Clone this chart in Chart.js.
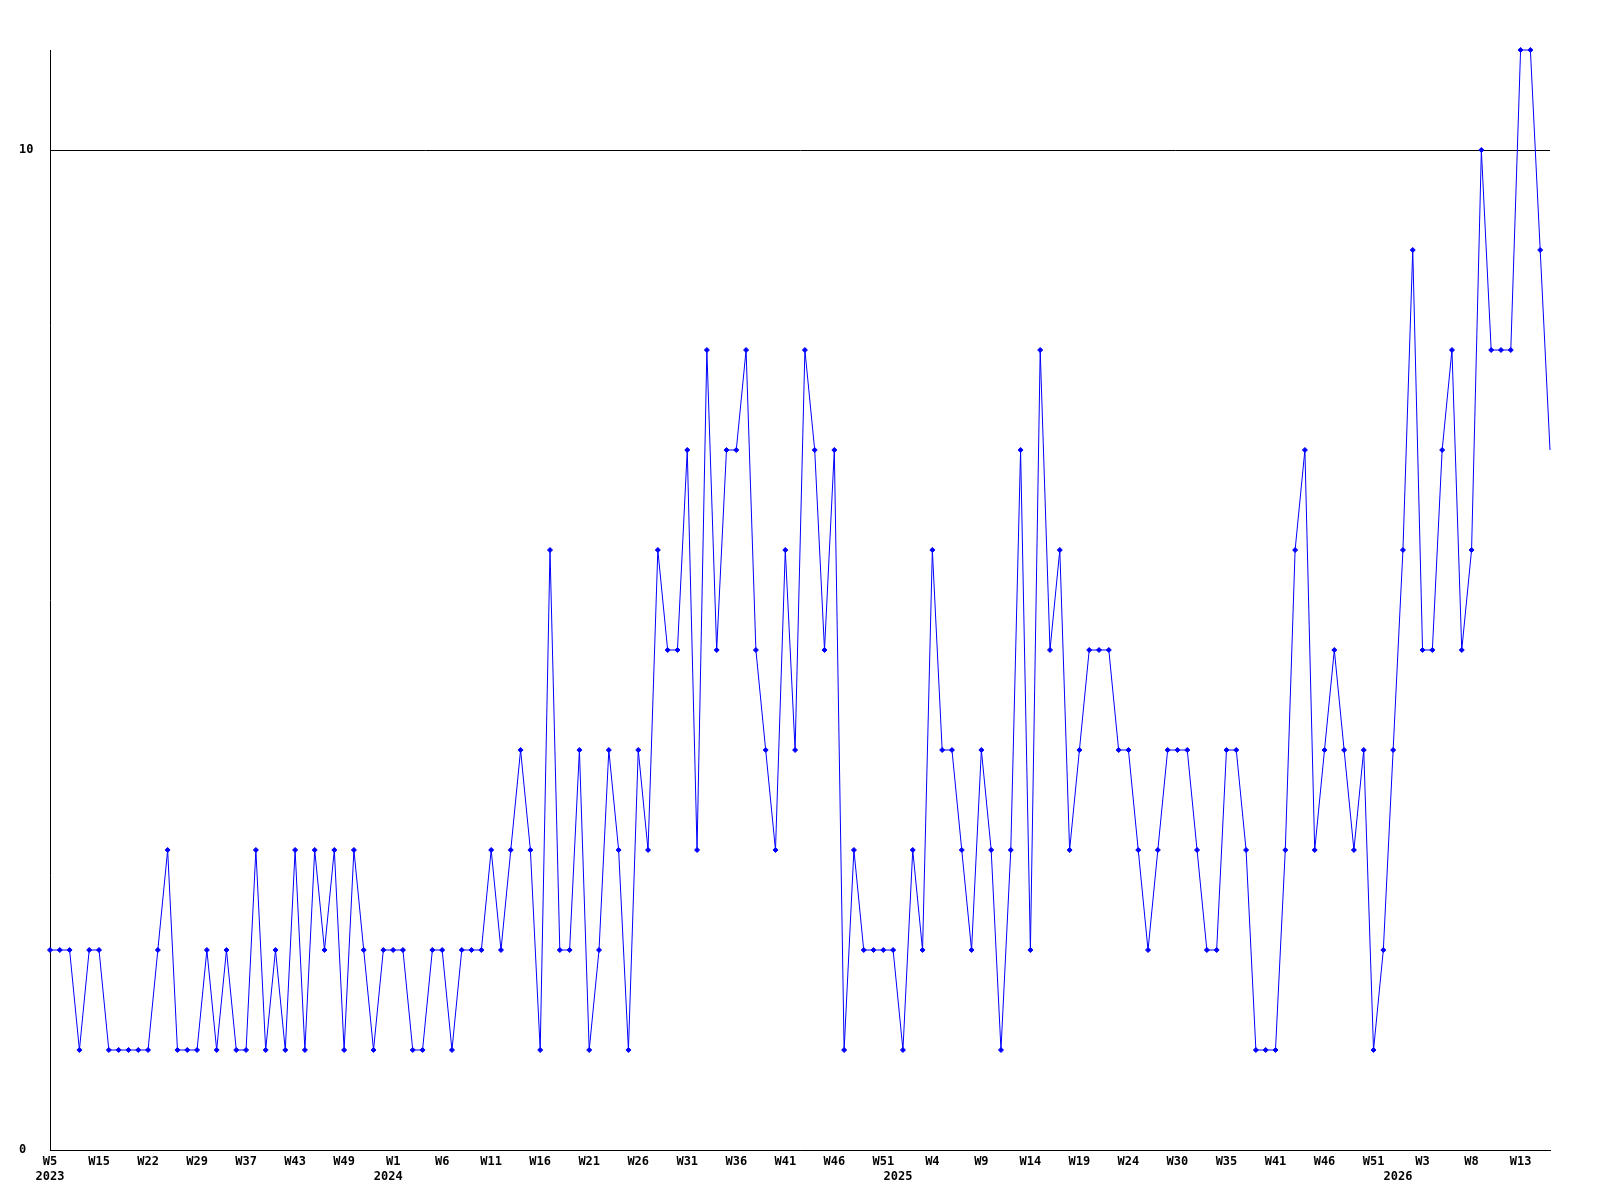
<!DOCTYPE html>
<html>
<head>
<meta charset="utf-8">
<script src="https://cdn.jsdelivr.net/npm/chart.js@4/dist/chart.umd.min.js"></script>
<style>
  html, body { margin: 0; padding: 0; background: #ffffff; }
  #wrap { width: 1600px; height: 1200px; }
</style>
</head>
<body>
<div id="wrap"><canvas id="c" width="1600" height="1200"></canvas></div>
<script>
// Weekly counts, in order (one point per category)
const counts = [
  2,2,2,1,2,2,1,1,1,1,1,2,3,1,1,1,2,1,2,1,
  1,3,1,2,1,3,1,3,2,3,1,3,2,1,2,2,2,1,1,
  2,2,1,2,2,2,3,2,3,4,3,1,6,2,2,4,1,2,4,3,
  1,4,3,6,5,5,7,3,8,5,7,7,8,5,4,3,6,4,8,
  7,5,7,1,3,2,2,2,2,1,3,2,6,4,4,3,2,4,3,1,
  3,7,2,8,5,6,3,4,5,5,5,4,4,3,2,3,4,4,4,
  3,2,2,4,4,3,1,1,1,3,6,7,3,4,5,4,3,4,1,
  2,4,6,9,5,5,7,8,5,6,10,8,8,8,11,11,9,
  7
];

// Week tick labels, one for every 5th point
const weekTicks = ['W5','W15','W22','W29','W37','W43','W49','W1','W6','W11','W16','W21',
  'W26','W31','W36','W41','W46','W51','W4','W9','W14','W19','W24','W30','W35','W41',
  'W46','W51','W3','W8','W13'];
const weekTickEvery = 5;

// Year labels and where each year starts (category index, boundary between weeks)
const years = ['2023','2024','2025','2026'];
const yearStarts = [0, 34.5, 86.5, 137.5];

// Y axis tick values
const yTicks = [0, 10];
const yMax = 11;

const labels = counts.map((_, i) => (i % weekTickEvery === 0 ? (weekTicks[i / weekTickEvery] || '') : ''));

const tickFont = { family: 'DejaVu Sans Mono', size: 12, weight: 'bold', lineHeight: '14px' };

new Chart(document.getElementById('c').getContext('2d'), {
  type: 'line',
  data: {
    labels: labels,
    datasets: [{
      data: counts,
      borderColor: '#0000ff',
      backgroundColor: '#0000ff',
      borderWidth: 1,
      tension: 0,
      fill: false,
      pointStyle: 'rectRot',
      pointRadius: (ctx) => (ctx.dataIndex === counts.length - 1 ? 0 : 2.5),
      pointHoverRadius: 2.5,
      pointBorderWidth: 1,
      clip: false
    }]
  },
  options: {
    responsive: false,
    animation: false,
    devicePixelRatio: 1,
    events: [],
    layout: { padding: { left: 19, top: 50, right: 50, bottom: 0 } },
    plugins: { legend: { display: false }, tooltip: { enabled: false } },
    scales: {
      x: {
        type: 'category',
        position: 'bottom',
        weight: 0,
        offset: false,
        grid: { display: false, drawTicks: false },
        border: { display: true, color: '#000000', width: 1 },
        ticks: { autoSkip: false, maxRotation: 0, minRotation: 0, padding: 5, color: '#000000', font: tickFont },
        afterFit: (s) => { s.height = 20; }
      },
      years: {
        type: 'linear',
        position: 'bottom',
        weight: 1,
        min: 0,
        max: counts.length - 1,
        grid: { display: false, drawTicks: false },
        border: { display: false },
        afterBuildTicks: (s) => { s.ticks = yearStarts.map(v => ({ value: v })); },
        ticks: {
          autoSkip: false, maxRotation: 0, minRotation: 0, padding: 0, color: '#000000', font: tickFont,
          callback: (v, i) => years[i]
        },
        afterFit: (s) => { s.height = 30; }
      },
      y: {
        position: 'left',
        min: 0,
        max: yMax,
        afterBuildTicks: (s) => { s.ticks = yTicks.map(v => ({ value: v })); },
        grid: { display: true, color: '#000000', lineWidth: 1, drawTicks: false },
        border: { display: true, color: '#000000', width: 1 },
        ticks: { crossAlign: 'far', padding: 0, color: '#000000', font: tickFont },
        afterFit: (s) => { s.width = 31; }
      }
    }
  }
});
</script>
</body>
</html>
